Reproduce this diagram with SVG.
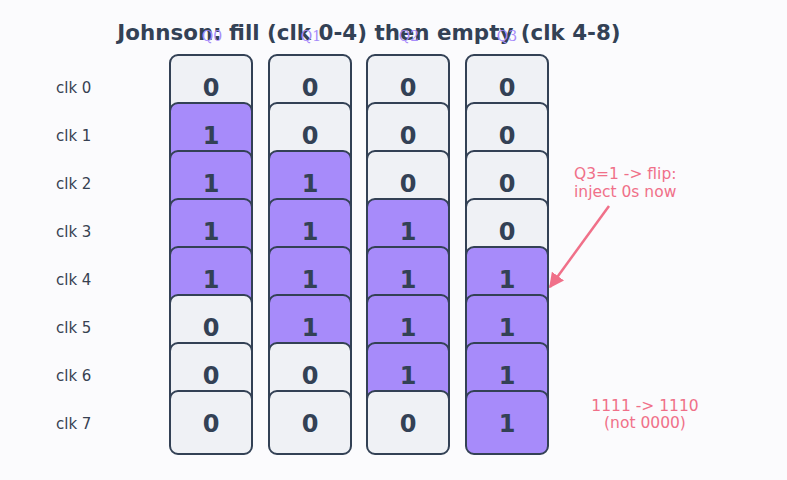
<svg xmlns="http://www.w3.org/2000/svg" width="787" height="480" viewBox="0 0 787 480">
<defs>
<style>
.c0{fill:#eff1f5;stroke:#334155;stroke-width:2}
.c1{fill:#a78bfa;stroke:#334155;stroke-width:2}
.d{font-family:"DejaVu Sans",sans-serif;font-weight:bold;font-size:24px;fill:#334155;text-anchor:middle}
.rl{font-family:"DejaVu Sans",sans-serif;font-size:15px;fill:#374151}
.ql{font-family:"DejaVu Serif",serif;font-size:14px;fill:#a78bfa;text-anchor:middle}
.an{font-family:"DejaVu Sans",sans-serif;font-size:15.5px;fill:#f07089}
</style>
<marker id="ah" viewBox="0 0 10 10" refX="9" refY="5" markerWidth="6" markerHeight="6" orient="auto-start-reverse"><path d="M0,0 L10,5 L0,10 z" fill="#f07089"/></marker>
</defs>
<rect width="787" height="480" fill="#fbfbfd"/>
<text x="369" y="40" font-family="DejaVu Sans,sans-serif" font-weight="bold" font-size="21.4" fill="#334155" text-anchor="middle">Johnson: fill (clk 0-4) then empty (clk 4-8)</text>
<g id="qlabels">
<text class="ql" x="212" y="41">Q0</text>
<text class="ql" x="311" y="41">Q1</text>
<text class="ql" x="409" y="41">Q2</text>
<text class="ql" x="507" y="41">Q3</text>
</g>
<g id="rowlabels">
<text class="rl" x="56" y="93">clk 0</text>
<text class="rl" x="56" y="141">clk 1</text>
<text class="rl" x="56" y="189">clk 2</text>
<text class="rl" x="56" y="237">clk 3</text>
<text class="rl" x="56" y="285">clk 4</text>
<text class="rl" x="56" y="333">clk 5</text>
<text class="rl" x="56" y="381">clk 6</text>
<text class="rl" x="56" y="429">clk 7</text>
</g>
<g id="row0">
<rect class="c0" x="170" y="55" width="82" height="63" rx="8"/><text class="d" x="211" y="96">0</text>
<rect class="c0" x="269" y="55" width="82" height="63" rx="8"/><text class="d" x="310" y="96">0</text>
<rect class="c0" x="367" y="55" width="82" height="63" rx="8"/><text class="d" x="408" y="96">0</text>
<rect class="c0" x="466" y="55" width="82" height="63" rx="8"/><text class="d" x="507" y="96">0</text>
</g>
<g id="row1">
<rect class="c1" x="170" y="103" width="82" height="63" rx="8"/><text class="d" x="211" y="144">1</text>
<rect class="c0" x="269" y="103" width="82" height="63" rx="8"/><text class="d" x="310" y="144">0</text>
<rect class="c0" x="367" y="103" width="82" height="63" rx="8"/><text class="d" x="408" y="144">0</text>
<rect class="c0" x="466" y="103" width="82" height="63" rx="8"/><text class="d" x="507" y="144">0</text>
</g>
<g id="row2">
<rect class="c1" x="170" y="151" width="82" height="63" rx="8"/><text class="d" x="211" y="192">1</text>
<rect class="c1" x="269" y="151" width="82" height="63" rx="8"/><text class="d" x="310" y="192">1</text>
<rect class="c0" x="367" y="151" width="82" height="63" rx="8"/><text class="d" x="408" y="192">0</text>
<rect class="c0" x="466" y="151" width="82" height="63" rx="8"/><text class="d" x="507" y="192">0</text>
</g>
<g id="row3">
<rect class="c1" x="170" y="199" width="82" height="63" rx="8"/><text class="d" x="211" y="240">1</text>
<rect class="c1" x="269" y="199" width="82" height="63" rx="8"/><text class="d" x="310" y="240">1</text>
<rect class="c1" x="367" y="199" width="82" height="63" rx="8"/><text class="d" x="408" y="240">1</text>
<rect class="c0" x="466" y="199" width="82" height="63" rx="8"/><text class="d" x="507" y="240">0</text>
</g>
<g id="row4">
<rect class="c1" x="170" y="247" width="82" height="63" rx="8"/><text class="d" x="211" y="288">1</text>
<rect class="c1" x="269" y="247" width="82" height="63" rx="8"/><text class="d" x="310" y="288">1</text>
<rect class="c1" x="367" y="247" width="82" height="63" rx="8"/><text class="d" x="408" y="288">1</text>
<rect class="c1" x="466" y="247" width="82" height="63" rx="8"/><text class="d" x="507" y="288">1</text>
</g>
<g id="row5">
<rect class="c0" x="170" y="295" width="82" height="63" rx="8"/><text class="d" x="211" y="336">0</text>
<rect class="c1" x="269" y="295" width="82" height="63" rx="8"/><text class="d" x="310" y="336">1</text>
<rect class="c1" x="367" y="295" width="82" height="63" rx="8"/><text class="d" x="408" y="336">1</text>
<rect class="c1" x="466" y="295" width="82" height="63" rx="8"/><text class="d" x="507" y="336">1</text>
</g>
<g id="row6">
<rect class="c0" x="170" y="343" width="82" height="63" rx="8"/><text class="d" x="211" y="384">0</text>
<rect class="c0" x="269" y="343" width="82" height="63" rx="8"/><text class="d" x="310" y="384">0</text>
<rect class="c1" x="367" y="343" width="82" height="63" rx="8"/><text class="d" x="408" y="384">1</text>
<rect class="c1" x="466" y="343" width="82" height="63" rx="8"/><text class="d" x="507" y="384">1</text>
</g>
<g id="row7">
<rect class="c0" x="170" y="391" width="82" height="63" rx="8"/><text class="d" x="211" y="432">0</text>
<rect class="c0" x="269" y="391" width="82" height="63" rx="8"/><text class="d" x="310" y="432">0</text>
<rect class="c0" x="367" y="391" width="82" height="63" rx="8"/><text class="d" x="408" y="432">0</text>
<rect class="c1" x="466" y="391" width="82" height="63" rx="8"/><text class="d" x="507" y="432">1</text>
</g>
<g id="notes">
<text class="an" x="574" y="179">Q3=1 -&gt; flip:</text>
<text class="an" x="574" y="197">inject 0s now</text>
<text class="an" x="645" y="411" text-anchor="middle">1111 -&gt; 1110</text>
<text class="an" x="645" y="428" text-anchor="middle">(not 0000)</text>
</g>
<g id="connectors">
<line x1="609" y1="206" x2="550" y2="287" stroke="#f07089" stroke-width="2.5" marker-end="url(#ah)"/>
</g>
</svg>
